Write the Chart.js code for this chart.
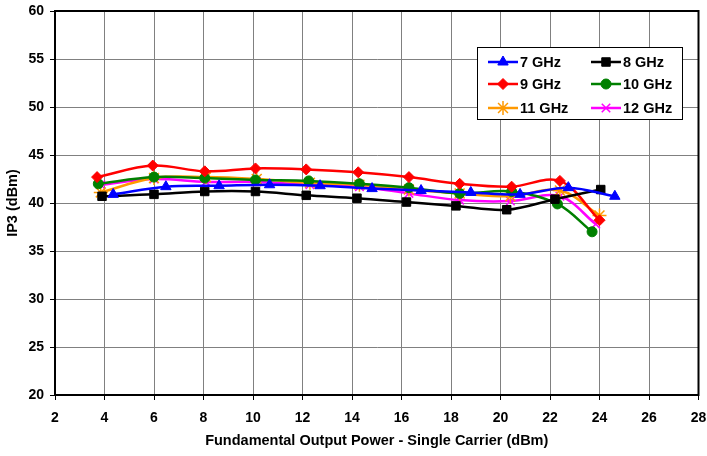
<!DOCTYPE html>
<html>
<head>
<meta charset="utf-8">
<script src="https://cdn.jsdelivr.net/npm/chart.js@4/dist/chart.umd.min.js"></script>
<style>
  html, body { margin: 0; padding: 0; background: #fff; }
  #ip3Chart { display: block; }
</style>
</head>
<body>
<canvas id="ip3Chart" width="707" height="456"></canvas>
<script>
// IP3 vs fundamental output power, one series per frequency
const power7 = [4.35, 6.48, 8.63, 10.67, 12.71, 14.81, 16.79, 18.80, 20.79, 22.74, 24.62];
const ip3_7 = [40.9, 41.7, 41.8, 41.9, 41.8, 41.5, 41.3, 41.1, 40.9, 41.6, 40.7];

const power8 = [3.9, 6.0, 8.05, 10.1, 12.15, 14.2, 16.2, 18.2, 20.25, 22.2, 24.05];
const ip3_8 = [40.7, 40.9, 41.2, 41.2, 40.8, 40.5, 40.1, 39.7, 39.3, 40.4, 41.4];

const power9 = [3.7, 5.95, 8.05, 10.1, 12.15, 14.25, 16.3, 18.35, 20.45, 22.4, 24.0];
const ip3_9 = [42.7, 43.9, 43.3, 43.6, 43.5, 43.2, 42.7, 42.0, 41.7, 42.3, 38.2];

const power10 = [3.75, 6.0, 8.05, 10.1, 12.25, 14.3, 16.3, 18.35, 20.45, 22.3, 23.7];
const ip3_10 = [42.0, 42.7, 42.6, 42.4, 42.3, 42.0, 41.6, 41.0, 41.2, 39.9, 37.0];

const power11 = [3.85, 6.0, 8.1, 10.15, 12.3, 14.3, 16.3, 18.35, 20.4, 22.4, 24.0];
const ip3_11 = [41.1, 42.6, 42.7, 42.5, 42.1, 41.9, 41.4, 41.0, 40.7, 41.3, 38.7];

const power12 = [3.85, 6.0, 8.1, 10.15, 12.3, 14.3, 16.3, 18.35, 20.4, 22.4, 23.85];
const ip3_12 = [41.9, 42.5, 42.2, 42.2, 41.9, 41.7, 41.0, 40.3, 40.2, 40.7, 37.8];

const seriesLabels = ['7 GHz', '8 GHz', '9 GHz', '10 GHz', '11 GHz', '12 GHz'];
const xTitle = 'Fundamental Output Power - Single Carrier (dBm)';
const yTitle = 'IP3 (dBm)';

const FONT = '"Liberation Sans", Arial, sans-serif';

function toPoints(xs, ys) {
    return xs.map((x, i) => ({ x: x, y: ys[i] }));
}

function makeSeries(label, xs, ys, color, style, radius) {
    return {
        label: label,
        data: toPoints(xs, ys),
        borderColor: color,
        backgroundColor: color,
        borderWidth: 2.5,
        pointStyle: style,
        pointRadius: radius,
        pointBorderWidth: style === 'star' || style === 'crossRot' ? 1.5 : 1,
        pointBorderColor: color,
        pointBackgroundColor: color,
        tension: 0.35,
        showLine: true
    };
}

const datasets = [
    makeSeries(seriesLabels[0], power7, ip3_7, '#0000ff', 'triangle', 6),
    makeSeries(seriesLabels[1], power8, ip3_8, '#000000', 'rect', 6),
    makeSeries(seriesLabels[2], power9, ip3_9, '#ff0000', 'rectRot', 5.5),
    makeSeries(seriesLabels[3], power10, ip3_10, '#008000', 'circle', 5),
    makeSeries(seriesLabels[4], power11, ip3_11, '#ff9900', 'star', 7),
    makeSeries(seriesLabels[5], power12, ip3_12, '#ff00ff', 'crossRot', 6)
];

// Frame around the plot area plus the boxed two-column legend
const framePlugin = {
    id: 'frameAndLegend',
    afterDraw(chart) {
        const ctx = chart.ctx;
        const a = chart.chartArea;
        ctx.save();
        ctx.strokeStyle = '#000';
        ctx.lineWidth = 2;
        ctx.strokeRect(a.left, a.top, a.right - a.left, a.bottom - a.top);

        // legend box
        const bx = 477, by = 47, bw = 205, bh = 72;
        ctx.fillStyle = '#fff';
        ctx.fillRect(bx, by, bw, bh);
        ctx.lineWidth = 1;
        ctx.strokeRect(bx + 0.5, by + 0.5, bw, bh);

        const cols = [488, 591];
        const rows = [62, 84, 108];
        ctx.font = 'bold 14.5px ' + FONT;
        ctx.textBaseline = 'middle';
        ctx.textAlign = 'left';
        chart.data.datasets.forEach((ds, i) => {
            const x0 = cols[i % 2];
            const y0 = rows[Math.floor(i / 2)];
            ctx.strokeStyle = ds.borderColor;
            ctx.lineWidth = 2.5;
            ctx.beginPath();
            ctx.moveTo(x0, y0);
            ctx.lineTo(x0 + 30, y0);
            ctx.stroke();
            ctx.fillStyle = ds.pointBackgroundColor;
            ctx.strokeStyle = ds.pointBorderColor;
            ctx.lineWidth = ds.pointBorderWidth;
            Chart.helpers.drawPoint(ctx, {
                pointStyle: ds.pointStyle,
                radius: ds.pointRadius,
                rotation: 0,
                borderWidth: ds.pointBorderWidth
            }, x0 + 15, y0);
            ctx.fillStyle = '#000';
            ctx.fillText(ds.label, x0 + 32, y0 + 1);
        });
        ctx.restore();
    }
};

new Chart(document.getElementById('ip3Chart').getContext('2d'), {
    type: 'line',
    data: { datasets: datasets },
    options: {
        responsive: false,
        animation: false,
        layout: { padding: { top: 11, right: 3, left: 0, bottom: 0 } },
        plugins: {
            legend: { display: false },
            tooltip: { enabled: false }
        },
        scales: {
            x: {
                type: 'linear',
                min: 2,
                max: 28,
                afterFit: scale => {
                    scale.height = 61;
                    scale.paddingLeft = 0;
                    scale.paddingRight = 0;
                },
                ticks: {
                    stepSize: 2,
                    color: '#000',
                    padding: 10,
                    font: { family: FONT, size: 14, weight: 'bold' }
                },
                grid: { color: '#808080', lineWidth: 1, tickLength: 5, tickColor: '#000' },
                border: { color: '#000', width: 2 },
                title: {
                    display: true,
                    text: xTitle,
                    color: '#000',
                    padding: { top: 0, bottom: 6 },
                    font: { family: FONT, size: 14.5, weight: 'bold' }
                }
            },
            y: {
                min: 20,
                max: 60,
                afterFit: scale => {
                    scale.width = 55;
                    scale.paddingTop = 0;
                    scale.paddingBottom = 0;
                },
                ticks: {
                    stepSize: 5,
                    color: '#000',
                    padding: 6,
                    font: { family: FONT, size: 14, weight: 'bold' }
                },
                grid: { color: '#808080', lineWidth: 1, tickLength: 5, tickColor: '#000' },
                border: { color: '#000', width: 2 },
                title: {
                    display: true,
                    text: yTitle,
                    color: '#000',
                    padding: { top: 4, bottom: 0 },
                    font: { family: FONT, size: 14.5, weight: 'bold' }
                }
            }
        }
    },
    plugins: [framePlugin]
});
</script>
</body>
</html>
